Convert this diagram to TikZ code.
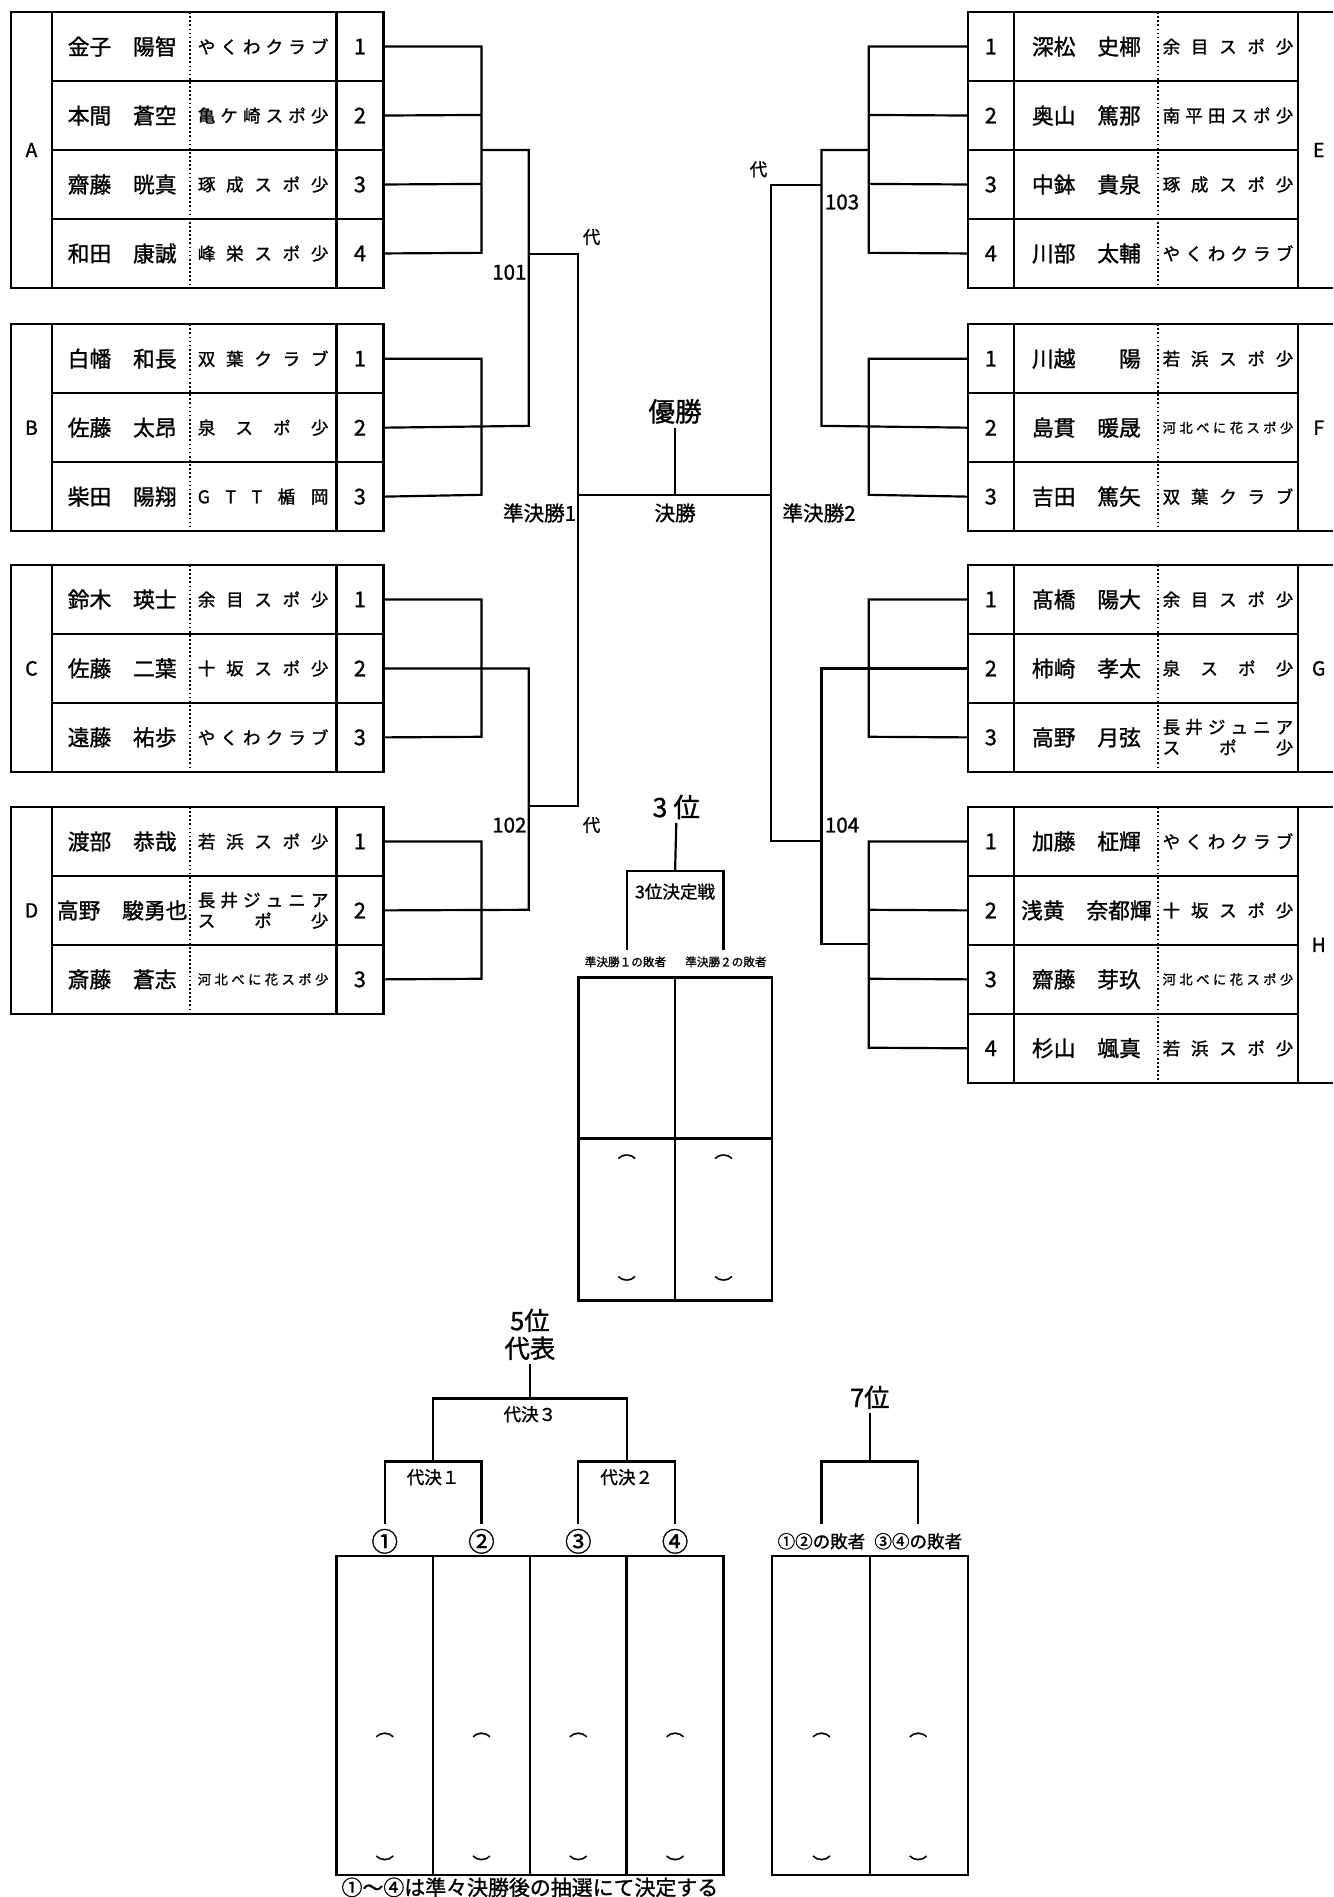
\documentclass[tikz,border=0pt]{standalone}
\usepackage{fontspec}
\setmainfont{Noto Sans CJK JP}[FakeBold=1.2]

% spread the characters of a club name over the cell
\newcommand\tm[1]{\makebox[108pt]{\tmfirst#1\relax}}
\def\tmfirst#1{#1\tmnext}
\def\tmnext#1{\ifx\relax#1\else\hfill#1\expandafter\tmnext\fi}
\newcommand\tms[1]{{\fontsize{11}{11}\selectfont\tm{#1}}}

\begin{document}
\begin{tikzpicture}[x=1pt,y=-1pt]
\tikzstyle{every node}+=[inner sep=0pt]
\tikzstyle{frame}=[line width=2pt]
\tikzstyle{bk}=[line width=1.8pt]
\tikzstyle{sep}=[line width=1.4pt, dotted]
\tikzstyle{nm}=[font=\fontsize{18}{18}\selectfont]
\tikzstyle{cb}=[font=\fontsize{14.5}{17}\selectfont, align=center]
\tikzstyle{nb}=[font=\fontsize{18}{18}\selectfont, minimum width=39pt, minimum height=57pt, outer sep=0pt]
\tikzstyle{grp}=[font=\fontsize{16}{16}\selectfont]
\tikzstyle{lbl}=[font=\fontsize{14.5}{14.5}\selectfont]
\tikzstyle{num}=[font=\fontsize{17}{17}\selectfont]
\tikzstyle{rnd}=[font=\fontsize{17}{17}\selectfont]
\tikzstyle{big}=[font=\fontsize{22}{24}\selectfont, align=center, inner sep=3pt]
\tikzstyle{tiny}=[font=\fontsize{9.6}{9.6}\selectfont]
\tikzstyle{arc}=[font=\fontsize{15}{15}\selectfont]
\useasboundingbox (0,0) rectangle (1102,1568);

% left frames
\foreach \t/\n/\g in {10/4/A, 268/3/B, 467/3/C, 667/3/D}{
  \pgfmathsetmacro\b{\t+57*\n}
  \draw[frame] (9,\t) rectangle (317,\b);
  \draw[frame] (43,\t) -- (43,\b) (278,\t) -- (278,\b);
  \draw[sep] (157,\t) -- (157,\b);
  \foreach \k in {1,...,\n}{ \draw[frame] (43,\t+57*\k) -- (317,\t+57*\k); }
  \node[grp] at (26,{(\t+\b)/2}) {\g};
}
% right frames
\foreach \t/\n/\g in {10/4/E, 268/3/F, 467/3/G, 667/4/H}{
  \pgfmathsetmacro\b{\t+57*\n}
  \draw[frame] (1102,\t) -- (800,\t) -- (800,\b) -- (1102,\b);
  \draw[frame] (838,\t) -- (838,\b) (1073,\t) -- (1073,\b);
  \draw[sep] (957,\t) -- (957,\b);
  \foreach \k in {1,...,\n}{ \draw[frame] (800,\t+57*\k) -- (1073,\t+57*\k); }
  \node[grp] at (1090,{(\t+\b)/2}) {\g};
}

% players, left
\foreach \nm/\cl [count=\i] in {金子　陽智/\tm{やくわクラブ}, 本間　蒼空/\tm{亀ケ崎スポ少},
    齋藤　晄真/\tm{琢成スポ少}, 和田　康誠/\tm{峰栄スポ少}}{
  \node[nm] at (101,10+57*\i-28.5) {\nm};
  \node[cb] at (217.5,10+57*\i-28.5) {\cl};
  \node[nb] (A\i) at (297.5,10+57*\i-28.5) {\i};
}
\foreach \nm/\cl [count=\i] in {白幡　和長/\tm{双葉クラブ}, 佐藤　太昂/\tm{泉スポ少},
    柴田　陽翔/\tm{GTT楯岡}}{
  \node[nm] at (101,268+57*\i-28.5) {\nm};
  \node[cb] at (217.5,268+57*\i-28.5) {\cl};
  \node[nb] (B\i) at (297.5,268+57*\i-28.5) {\i};
}
\foreach \nm/\cl [count=\i] in {鈴木　瑛士/\tm{余目スポ少}, 佐藤　二葉/\tm{十坂スポ少},
    遠藤　祐歩/\tm{やくわクラブ}}{
  \node[nm] at (101,467+57*\i-28.5) {\nm};
  \node[cb] at (217.5,467+57*\i-28.5) {\cl};
  \node[nb] (C\i) at (297.5,467+57*\i-28.5) {\i};
}
\foreach \nm/\cl [count=\i] in {渡部　恭哉/\tm{若浜スポ少}, 高野　駿勇也/\tm{長井ジュニア}\\\tm{スポ少},
    斎藤　蒼志/\tms{河北べに花スポ少}}{
  \node[nm] at (101,667+57*\i-28.5) {\nm};
  \node[cb] at (217.5,667+57*\i-28.5) {\cl};
  \node[nb] (D\i) at (297.5,667+57*\i-28.5) {\i};
}

% players, right
\foreach \nm/\cl [count=\i] in {深松　史椰/\tm{余目スポ少}, 奥山　篤那/\tm{南平田スポ少},
    中鉢　貴泉/\tm{琢成スポ少}, 川部　太輔/\tm{やくわクラブ}}{
  \node[nb] (E\i) at (819,10+57*\i-28.5) {\i};
  \node[nm] at (898,10+57*\i-28.5) {\nm};
  \node[cb] at (1015,10+57*\i-28.5) {\cl};
}
\foreach \nm/\cl [count=\i] in {川越　　陽/\tm{若浜スポ少}, 島貫　暖晟/\tms{河北べに花スポ少},
    吉田　篤矢/\tm{双葉クラブ}}{
  \node[nb] (F\i) at (819,268+57*\i-28.5) {\i};
  \node[nm] at (898,268+57*\i-28.5) {\nm};
  \node[cb] at (1015,268+57*\i-28.5) {\cl};
}
\foreach \nm/\cl [count=\i] in {髙橋　陽大/\tm{余目スポ少}, 柿崎　孝太/\tm{泉スポ少},
    高野　月弦/\tm{長井ジュニア}\\\tm{スポ少}}{
  \node[nb] (G\i) at (819,467+57*\i-28.5) {\i};
  \node[nm] at (898,467+57*\i-28.5) {\nm};
  \node[cb] at (1015,467+57*\i-28.5) {\cl};
}
\foreach \nm/\cl [count=\i] in {加藤　柾輝/\tm{やくわクラブ}, 浅黄　奈都輝/\tm{十坂スポ少},
    齋藤　芽玖/\tms{河北べに花スポ少}, 杉山　颯真/\tm{若浜スポ少}}{
  \node[nb] (H\i) at (819,667+57*\i-28.5) {\i};
  \node[nm] at (898,667+57*\i-28.5) {\nm};
  \node[cb] at (1015,667+57*\i-28.5) {\cl};
}

% bracket, left half
\draw[bk] (A1.east) -| (398,209) -- (A4.east);
\draw[bk] (A2.east) -- (398,95) (A3.east) -- (398,152);
\draw[bk] (398,124) -| (437,352) -- (B2.east);
\draw[bk] (B1.east) -| (398,409) -- (B3.east);
\draw[bk] (C1.east) -| (398,609) -- (C3.east);
\draw[bk] (D1.east) -| (398,809) -- (D3.east);
\draw[bk] (C2.east) -| (437,752) -- (D2.east);
\draw[bk] (437,210) -| (478,666) -- (437,666);
\node[num] at (421,225) {101};
\node[num] at (421,682) {102};
\node[lbl] at (489,196) {代};
\node[lbl] at (489,682) {代};

% bracket, right half
\draw[bk] (E1.west) -| (718,209) -- (E4.west);
\draw[bk] (E2.west) -- (718,95) (E3.west) -- (718,152);
\draw[bk] (718,124) -| (679,352) -- (F2.west);
\draw[bk] (F1.west) -| (718,409) -- (F3.west);
\draw[bk] (G1.west) -| (718,609) -- (G3.west);
\draw[bk] (H1.west) -| (718,866) -- (H4.west);
\draw[bk] (H2.west) -- (718,752) (H3.west) -- (718,809);
\draw[bk] (G2.west) -| (679,780) -- (718,780);
\draw[bk] (679,153) -| (637,695) -- (679,695);
\node[num] at (696,167) {103};
\node[num] at (696,682) {104};
\node[lbl] at (627,140) {代};

% final
\coordinate (fin) at (558,409);
\draw[bk] (478,409) -- (637,409);
\node[big] (win) at (558,340) {優勝};
\draw[bk] (win.south) -- (fin);
\node[rnd] at (446,424) {準決勝1};
\node[rnd] at (558,424) {決勝};
\node[rnd] at (677,424) {準決勝2};

% 3rd place
\node[big] (third) at (559,667) {3 位};
\draw[bk] (third.south) -- (558,720);
\draw[bk] (518,785) -- (518,720) -- (598,720) -- (598,785);
\node[lbl] at (558,737) {3位決定戦};
\node[tiny] at (517,795) {準決勝１の敗者};
\node[tiny] at (600,795) {準決勝２の敗者};
\draw[frame] (478,808) rectangle (638,1075);
\draw[frame] (558,808) -- (558,1075) (478,941) -- (638,941);
\foreach \x in {518,598}{
  \node[arc] at (\x,956) {︵};
  \node[arc] at (\x,1061) {︶};
}

% 5th place
\node[big, font=\fontsize{21}{23}\selectfont] (fifth) at (438,1103) {5位\\代表};
\draw[bk] (fifth.south) -- (438,1156);
\draw[bk] (358,1208) -- (358,1156) -- (518,1156) -- (518,1208);
\draw[bk] (318,1260) -- (318,1208) -- (398,1208) -- (398,1260);
\draw[bk] (478,1260) -- (478,1208) -- (558,1208) -- (558,1260);
\node[lbl] at (438,1169) {代決３};
\node[lbl] at (358,1221) {代決１};
\node[lbl] at (518,1221) {代決２};
\foreach \x/\c in {318/①, 398/②, 478/③, 558/④}{
  \node[big] at (\x,1274) {\c};
}
\draw[frame] (278,1286) rectangle (598,1550);
\foreach \x in {358,438,518}{ \draw[frame] (\x,1286) -- (\x,1550); }
\foreach \x in {318,398,478,558}{
  \node[arc] at (\x,1434) {︵};
  \node[arc] at (\x,1540) {︶};
}
\node[font=\fontsize{17.3}{17.3}\selectfont] at (438,1560) {①～④は準々決勝後の抽選にて決定する};

% 7th place
\node[big, font=\fontsize{21}{23}\selectfont] (seventh) at (719,1155) {7位};
\draw[bk] (seventh.south) -- (719,1208);
\draw[bk] (679,1260) -- (679,1208) -- (759,1208) -- (759,1260);
\node[lbl] at (679,1274) {①②の敗者};
\node[lbl] at (759,1274) {③④の敗者};
\draw[frame] (638,1286) rectangle (800,1550);
\draw[frame] (719,1286) -- (719,1550);
\foreach \x in {679,759}{
  \node[arc] at (\x,1434) {︵};
  \node[arc] at (\x,1540) {︶};
}
\end{tikzpicture}
\end{document}
